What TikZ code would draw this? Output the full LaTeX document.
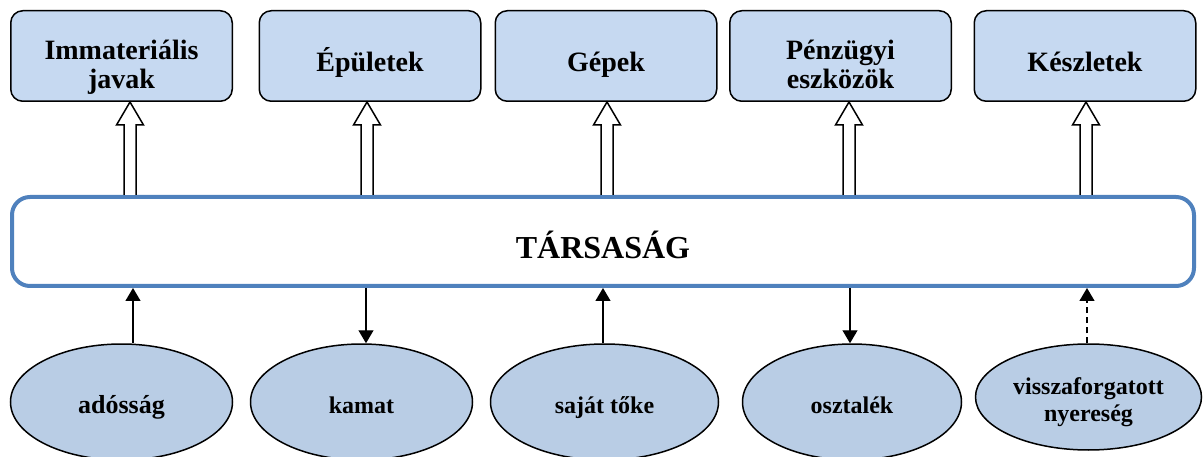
\documentclass[tikz,border=0pt]{standalone}
\usepackage{fontspec}
\setmainfont{Liberation Serif}
\usetikzlibrary{arrows.meta,calc,shapes.geometric}
\definecolor{boxfill}{HTML}{C6D9F1}
\definecolor{ovalfill}{HTML}{B9CDE5}
\definecolor{firmblue}{HTML}{4F81BD}

\begin{document}
\begin{tikzpicture}[x=1pt, y=-1pt]
\tikzstyle{asset}=[rectangle, draw, line width=1.5pt, rounded corners=12pt,
                   fill=boxfill, minimum width=221.5pt, minimum height=90.5pt,
                   align=center, text height=32pt, text depth=0pt,
                   font=\fontsize{28}{29}\selectfont\bfseries]
\tikzstyle{twoline}=[text height=66pt]
\tikzstyle{source}=[ellipse, draw, line width=1.5pt, fill=ovalfill, inner sep=0pt,
                    minimum width=222pt, minimum height=116pt,
                    align=center, text height=22pt, text depth=0pt,
                    font=\fontsize{24}{27}\selectfont\bfseries]
\tikzstyle{firm}=[rectangle, draw=firmblue, line width=4pt, rounded corners=18pt,
                  minimum width=1182pt, minimum height=89pt,
                  text height=35pt, text depth=0pt,
                  font=\fontsize{32}{36}\selectfont\bfseries]
\tikzstyle{flow}=[line width=1.3pt, -{Triangle[width=15pt,length=13pt]}]
\tikzstyle{fat}=[draw, line width=1.5pt, fill=white]
\useasboundingbox (0,0) rectangle (1203,457);
\node[firm] (T) at (603,241.5) {TÁRSASÁG};
\node[asset, twoline] (b1) at (121.5,56) {Immateriális\\javak};
\node[asset] (b2) at (370,56) {Épületek};
\node[asset] (b3) at (606,56) {Gépek};
\node[asset, twoline] (b4) at (840.5,56) {Pénzügyi\\eszközök};
\node[asset] (b5) at (1085,56) {Készletek};
\node[source, font=\fontsize{26}{29}\selectfont\bfseries] (e1) at (121.5,402) {adósság};
\node[source] (e2) at (361.5,402) {kamat};
\node[source, minimum width=228pt] (e3) at (604.5,402) {saját tőke};
\node[source, minimum width=219pt] (e4) at (852,402) {osztalék};
\node[source, minimum width=226pt, minimum height=106pt, text height=49pt] (e5) at (1088.5,397) {visszaforgatott\\nyereség};
% hollow arrows up to the assets
\foreach \b/\ax in {b1/130, b2/367, b3/607, b4/849, b5/1086}{
  \draw[fat] let \p1=(T.north), \p2=(\b.south) in
    ({\ax pt-6pt},\y1) -- ({\ax pt-6pt},\y2-23pt) -- ({\ax pt-13.5pt},\y2-23pt)
    -- ({\ax pt},\y2) -- ({\ax pt+13.5pt},\y2-23pt) -- ({\ax pt+6pt},\y2-23pt)
    -- ({\ax pt+6pt},\y1);}
% money flows
\foreach \e/\ax in {e1/133, e3/603}{\draw[flow] (\e.north -| \ax,0) -- (T.south -| \ax,0);}
\foreach \e/\ax in {e2/366, e4/850}{\draw[flow] (T.south -| \ax,0) -- (\e.north -| \ax,0);}
\draw[flow, dashed, dash pattern=on 6pt off 4pt] (e5.north -| 1087,0) -- (T.south -| 1087,0);
\end{tikzpicture}
\end{document}
